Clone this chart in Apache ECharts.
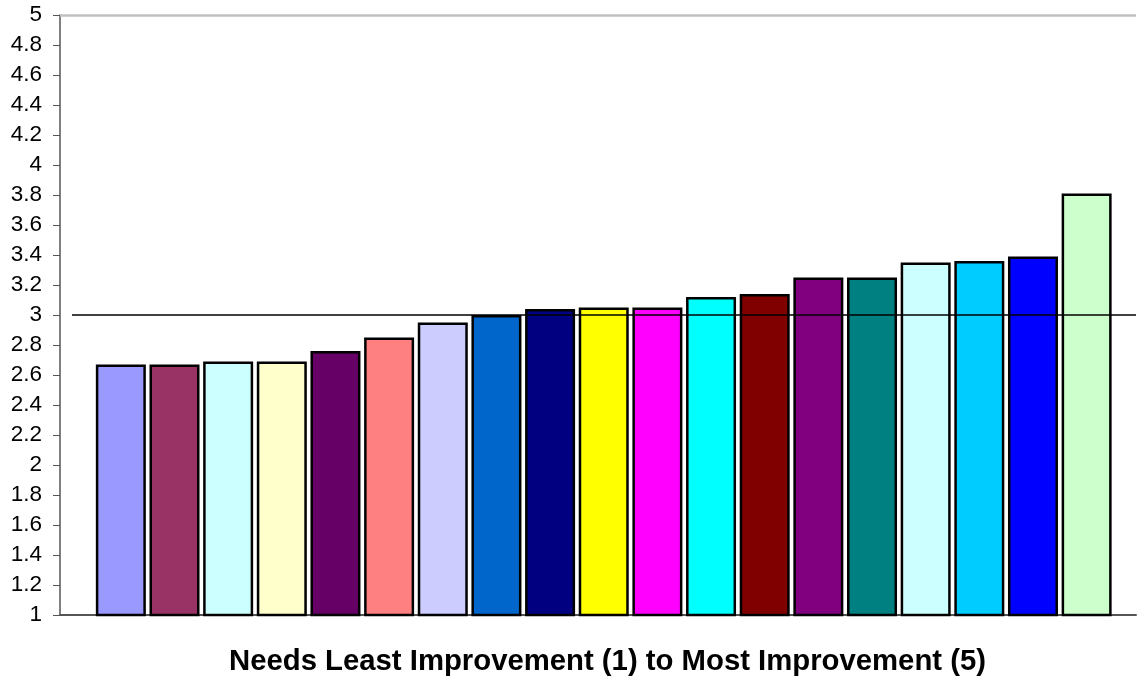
<!DOCTYPE html>
<html>
<head>
<meta charset="utf-8">
<script src="https://cdn.jsdelivr.net/npm/echarts@6/dist/echarts.min.js"></script>
<style>
  html, body { margin: 0; padding: 0; background: #ffffff; }
  #chart { width: 1137px; height: 677px; }
</style>
</head>
<body>
<div id="chart"></div>
<script>
// Mean rating per item, sorted from least to most improvement needed
const values = [2.67, 2.67, 2.69, 2.69, 2.76, 2.85, 2.95, 3.00, 3.04, 3.05, 3.05, 3.12, 3.14, 3.25, 3.25, 3.35, 3.36, 3.39, 3.81];
const barColors = ['#9999FF', '#993366', '#CCFFFF', '#FFFFCC', '#660066', '#FF8080', '#CCCCFF', '#0066CC', '#000080',
  '#FFFF00', '#FF00FF', '#00FFFF', '#800000', '#800080', '#008080', '#CCFFFF', '#00CCFF', '#0000FF', '#CCFFCC'];
const yTicks = ['1', '1.2', '1.4', '1.6', '1.8', '2', '2.2', '2.4', '2.6', '2.8', '3', '3.2', '3.4', '3.6', '3.8', '4', '4.2', '4.4', '4.6', '4.8', '5'];
const midpoint = 3;
const xTitle = 'Needs Least Improvement (1) to Most Improvement (5)';

const FONT = '"Liberation Sans", Arial, sans-serif';
const xMin = -1.134, xMax = 18.92;

const chart = echarts.init(document.getElementById('chart'), null, { renderer: 'canvas' });
chart.setOption({
  backgroundColor: '#ffffff',
  animation: false,
  grid: { left: 60, right: 1, top: 15, bottom: 62, containLabel: false },
  title: {
    text: xTitle,
    left: 224,
    top: 642,
    textStyle: { fontFamily: FONT, fontSize: 29.3, fontWeight: 'bold', color: '#000000' }
  },
  xAxis: {
    type: 'value',
    min: xMin,
    max: xMax,
    axisLine: { show: true, onZero: false, lineStyle: { color: '#555555', width: 2 } },
    axisTick: { show: false },
    axisLabel: { show: false },
    splitLine: { show: false }
  },
  yAxis: {
    type: 'value',
    min: 1,
    max: 5,
    interval: 0.2,
    axisLine: { show: true, onZero: false, lineStyle: { color: '#555555', width: 1.5 } },
    axisTick: { show: true, inside: false, length: 7, lineStyle: { color: '#555555', width: 1 } },
    axisLabel: {
      fontFamily: FONT, fontSize: 22.5, color: '#000000', margin: 18,
      formatter: (v) => yTicks[Math.round((v - 1) / 0.2)] ?? ''
    },
    splitLine: { show: false }
  },
  series: [{
    type: 'bar',
    barWidth: 50,
    data: values.map((v, i) => ({
      value: [i, v],
      itemStyle: { color: barColors[i], borderColor: '#000000', borderWidth: 2.5 }
    })),
    markLine: {
      silent: true,
      symbol: ['none', 'none'],
      label: { show: false },
      data: [
        [
          { coord: [xMin, 5], lineStyle: { color: '#c0c0c0', width: 2.5, type: 'solid' } },
          { coord: [xMax, 5] }
        ],
        [
          { coord: [-0.91, midpoint], lineStyle: { color: '#000000', width: 1.5, type: 'solid' } },
          { coord: [xMax, midpoint] }
        ]
      ]
    }
  }]
});
</script>
</body>
</html>
